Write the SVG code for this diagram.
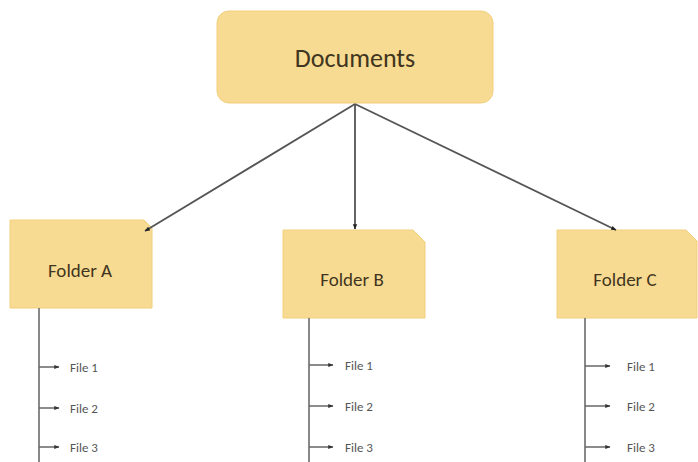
<svg xmlns="http://www.w3.org/2000/svg" width="698" height="462" viewBox="0 0 698 462">
<style>
.box{fill:#f8db92;stroke:#f1cf7e;stroke-width:1}
.t{font-family:Calibri,"Liberation Sans",Carlito,sans-serif;fill:#3f3520;text-anchor:middle}
.big{font-size:26px}
.mid{font-size:19px}
.f{font-family:Calibri,"Liberation Sans",Carlito,sans-serif;font-size:13px;fill:#555}
.c{stroke:#555;stroke-width:1.8;fill:none}
.v{stroke:#888;stroke-width:2;fill:none}
.tk{stroke:#666;stroke-width:1.5;fill:none}
</style>
<defs>
<marker id="ah" viewBox="0 0 10 10" refX="9" refY="5" markerWidth="3" markerHeight="3" orient="auto">
<path d="M0,1 L10,5 L0,9 z" fill="#222"/>
</marker>
<marker id="sh" viewBox="0 0 10 10" refX="9" refY="5" markerWidth="3.5" markerHeight="3.5" orient="auto">
<path d="M0,1 L10,5 L0,9 z" fill="#333"/>
</marker>
</defs>
<rect width="698" height="462" fill="#ffffff"/>
<g id="documents">
<rect class="box" x="217" y="11" width="276" height="92" rx="12"/>
<text class="t big" x="355" y="67">Documents</text>
</g>
<g id="folderA">
<path class="box" d="M10,220 H144 L152,228 V308 H10 Z"/>
<text class="t mid" x="80" y="277">Folder A</text>
</g>
<g id="folderB">
<path class="box" d="M283,230 H413 L425,242 V318 H283 Z"/>
<text class="t mid" x="352" y="286">Folder B</text>
</g>
<g id="folderC">
<path class="box" d="M557,230 H686 L697,241 V318 H557 Z"/>
<text class="t mid" x="625" y="286">Folder C</text>
</g>
<g id="connectors">
<line class="c" x1="355" y1="104" x2="145" y2="231" marker-end="url(#ah)"/>
<line class="c" x1="355" y1="104" x2="355" y2="229" marker-end="url(#ah)"/>
<line class="c" x1="355" y1="104" x2="616" y2="230" marker-end="url(#ah)"/>
<line class="v" x1="39" y1="308" x2="39" y2="462"/>
<line class="v" x1="309" y1="318" x2="309" y2="462"/>
<line class="v" x1="585" y1="318" x2="585" y2="462"/>
<line class="tk" x1="39" y1="367" x2="59" y2="367" marker-end="url(#sh)"/>
<line class="tk" x1="39" y1="408" x2="59" y2="408" marker-end="url(#sh)"/>
<line class="tk" x1="39" y1="447" x2="59" y2="447" marker-end="url(#sh)"/>
<line class="tk" x1="309" y1="365" x2="333" y2="365" marker-end="url(#sh)"/>
<line class="tk" x1="309" y1="406" x2="333" y2="406" marker-end="url(#sh)"/>
<line class="tk" x1="309" y1="447" x2="333" y2="447" marker-end="url(#sh)"/>
<line class="tk" x1="585" y1="366" x2="610" y2="366" marker-end="url(#sh)"/>
<line class="tk" x1="585" y1="406" x2="610" y2="406" marker-end="url(#sh)"/>
<line class="tk" x1="585" y1="447" x2="610" y2="447" marker-end="url(#sh)"/>
</g>
<g id="filesA">
<text class="f" x="70" y="372">File 1</text>
<text class="f" x="70" y="413">File 2</text>
<text class="f" x="70" y="452">File 3</text>
</g>
<g id="filesB">
<text class="f" x="345" y="370">File 1</text>
<text class="f" x="345" y="411">File 2</text>
<text class="f" x="345" y="452">File 3</text>
</g>
<g id="filesC">
<text class="f" x="627" y="371">File 1</text>
<text class="f" x="627" y="411">File 2</text>
<text class="f" x="627" y="452">File 3</text>
</g>
</svg>
